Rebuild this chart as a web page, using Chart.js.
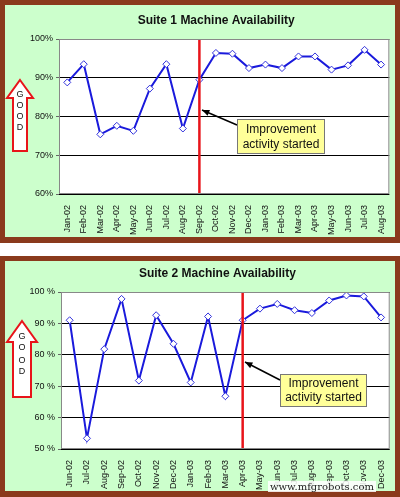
<!DOCTYPE html>
<html><head><meta charset="utf-8">
<script src="https://cdn.jsdelivr.net/npm/chart.js@4"></script>
<style>
body{margin:0;width:400px;height:497px;background:#fff;position:relative;overflow:hidden;font-family:"Liberation Sans",Arial,sans-serif}
.frame{position:absolute;left:0;width:400px;background:#8a3a1c}
.green{position:absolute;left:5px;width:390px;background:#ccffcc}
canvas{position:absolute}
#wm{position:absolute;left:268px;top:481px;font-family:"DejaVu Serif",serif;font-size:10px;color:#222;background:rgba(255,255,255,0.85);padding:0 2px}
</style></head><body>
<div class="frame" style="top:0;height:243px"></div>
<div class="green" style="top:5px;height:232px"></div>
<div class="frame" style="top:256px;height:241px"></div>
<div class="green" style="top:261px;height:230px"></div>
<canvas id="c1" style="left:5px;top:5px"></canvas>
<canvas id="c2" style="left:5px;top:261px"></canvas>
<canvas id="ov" width="400" height="497" style="left:0;top:0;pointer-events:none"></canvas>
<div id="wm">www.mfgrobots.com</div>
<script>
const labels1=["Jan-02","Feb-02","Mar-02","Apr-02","May-02","Jun-02","Jul-02","Aug-02","Sep-02","Oct-02","Nov-02","Dec-02","Jan-03","Feb-03","Mar-03","Apr-03","May-03","Jun-03","Jul-03","Aug-03"];
const values1=[88.8,93.5,75.4,77.6,76.3,87.2,93.5,76.9,89.5,96.4,96.2,92.5,93.4,92.5,95.5,95.5,92.1,93.2,97.2,93.4];
const labels2=["Jun-02","Jul-02","Aug-02","Sep-02","Oct-02","Nov-02","Dec-02","Jan-03","Feb-03","Mar-03","Apr-03","May-03","Jun-03","Jul-03","Aug-03","Sep-03","Oct-03","Nov-03","Dec-03"];
const values2=[91.0,53.4,81.8,97.8,71.8,92.6,83.5,71.2,92.2,66.8,91.0,94.7,96.2,94.2,93.3,97.3,98.9,98.6,91.9];
const start1="Sep-02", start2="Apr-03";

const font="'Liberation Sans', Arial, sans-serif";
function make(id,w,h,labels,values,min,max,title,startLbl,yw,top,xh,pctSpace){
  const cv=document.getElementById(id);cv.width=w;cv.height=h;cv.style.width=w+'px';cv.style.height=h+'px';
  const deco={id:'deco'+id,
    beforeDraw(c){const a=c.chartArea,x=c.ctx;x.save();x.fillStyle='#fff';x.fillRect(a.left,a.top,a.width,a.height);x.restore();},
    afterDatasetsDraw(c){const a=c.chartArea,x=c.ctx;x.save();
      const px=c.scales.x.getPixelForValue(labels.indexOf(startLbl));
      x.strokeStyle='#e8141a';x.lineWidth=2.5;x.beginPath();x.moveTo(px,a.top);x.lineTo(px,a.bottom);x.stroke();
      x.strokeStyle='#888';x.lineWidth=1;x.strokeRect(a.left+0.5,a.top+0.5,a.width-1,a.height-1);
      x.fillStyle='#111';x.font='bold 12px '+font;x.textAlign='center';x.textBaseline='middle';
      x.fillText(title,(a.left+a.right)/2-8,top-18);x.restore();}};
  return new Chart(cv,{type:'line',data:{labels,datasets:[{data:values,borderColor:'#1a1adc',borderWidth:2,tension:0,
    pointStyle:'rectRot',pointRadius:3.5,pointBackgroundColor:'#fff',pointBorderColor:'#3333dd',pointBorderWidth:1}]},
    options:{responsive:false,animation:false,layout:{padding:{top:top,right:4,left:0,bottom:0}},
    plugins:{legend:{display:false},tooltip:{enabled:false}},
    scales:{y:{min,max,ticks:{stepSize:10,color:'#111',font:{size:9,family:font},callback:v=>v+(pctSpace?' %':'%')},
        grid:{color:'#000',drawTicks:true,tickLength:3,tickColor:'#666'},border:{display:false},afterFit(s){s.width=yw;}},
      x:{offset:true,ticks:{color:'#111',font:{size:9,family:font},maxRotation:90,minRotation:90,autoSkip:false},
        grid:{display:false,drawTicks:true,offset:true},afterFit(s){s.height=xh;}}}},plugins:[deco]});
}
make('c1',390,232,labels1,values1,60,100,'Suite 1 Machine Availability',start1,54,34,43,false);
make('c2',390,230,labels2,values2,50,100,'Suite 2 Machine Availability',start2,56,31,42,true);

const o=document.getElementById('ov').getContext('2d');
function good(x0,x1,tip,hb,bot,ys){
  const mx=(x0+x1)/2,s0=x0+6,s1=x1-6;
  o.beginPath();o.moveTo(mx,tip);o.lineTo(x1,hb);o.lineTo(s1,hb);o.lineTo(s1,bot);o.lineTo(s0,bot);o.lineTo(s0,hb);o.lineTo(x0,hb);o.closePath();
  o.fillStyle='#fff';o.fill();o.strokeStyle='#e8141a';o.lineWidth=2;o.stroke();
  o.fillStyle='#111';o.font='9px '+font;o.textAlign='center';o.textBaseline='middle';
  'GOOD'.split('').forEach((ch,i)=>o.fillText(ch,mx,ys[i]));
}
good(7,33,80,98,151,[95,106,117,128]);
good(7,37,321,342,397,[337,348,361,372]);
function callout(bx,by,bw,bh,ax0,ay0,ax1,ay1){
  o.strokeStyle='#000';o.lineWidth=1.5;o.beginPath();o.moveTo(ax0,ay0);o.lineTo(ax1,ay1);o.stroke();
  const ang=Math.atan2(ay1-ay0,ax1-ax0);o.fillStyle='#000';o.beginPath();o.moveTo(ax1,ay1);
  o.lineTo(ax1-8*Math.cos(ang-0.4),ay1-8*Math.sin(ang-0.4));o.lineTo(ax1-8*Math.cos(ang+0.4),ay1-8*Math.sin(ang+0.4));o.closePath();o.fill();
  o.fillStyle='#ffff99';o.fillRect(bx,by,bw,bh);o.strokeStyle='#777';o.lineWidth=1;o.strokeRect(bx+0.5,by+0.5,bw-1,bh-1);
  o.fillStyle='#111';o.font='12px '+font;o.textAlign='center';o.textBaseline='middle';
  o.fillText('Improvement',bx+bw/2,by+bh*0.3);o.fillText('activity started',bx+bw/2,by+bh*0.72);
}
callout(237,119,88,35,237,125,202,110);
callout(280,374,87,33,280,380,245,362);
</script></body></html>
